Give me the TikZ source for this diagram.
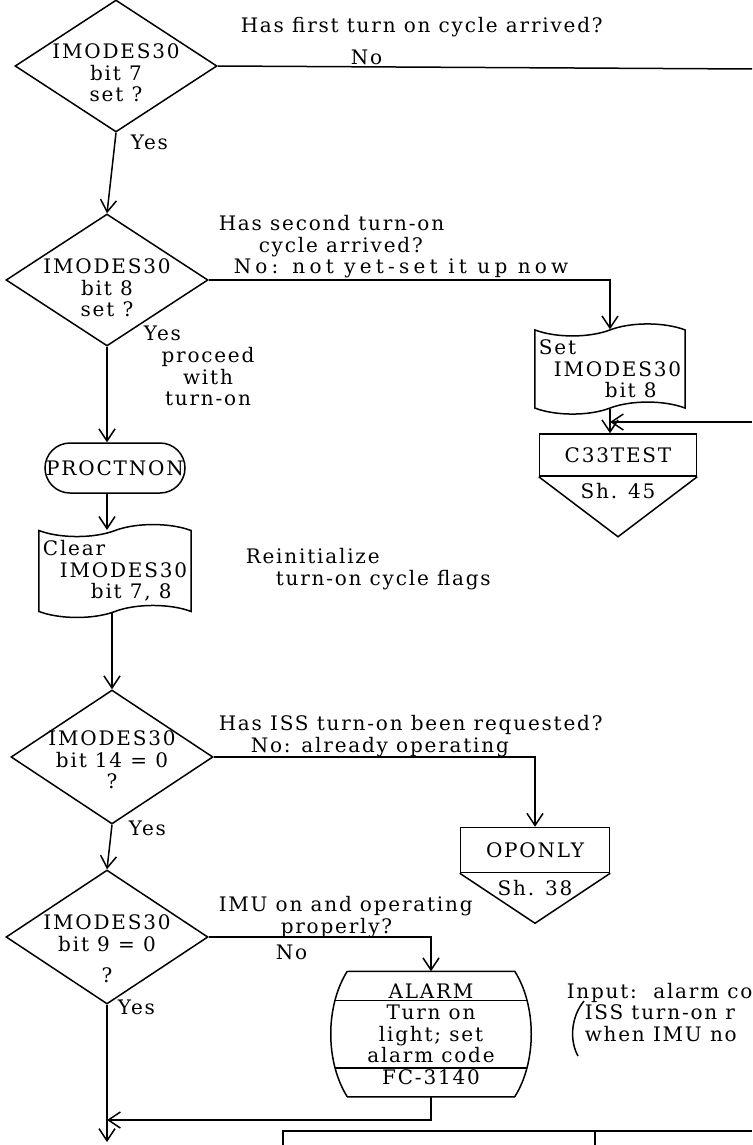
\documentclass[tikz,border=0pt]{standalone}
\usepackage{fontspec}
\setmainfont{DejaVu Serif}[LetterSpace=9]
\usetikzlibrary{shapes.geometric,shapes.misc,shapes.symbols,arrows.meta}

\begin{document}
\begin{tikzpicture}[x=1pt, y=-1pt, line width=1.5pt,
      every node/.style = {font=\fontsize{20}{21.5}\selectfont, inner sep=0pt},
      every label/.style = {align=center},
      cond/.style = {diamond, draw, minimum width=202pt, minimum height=132pt},
      flag/.style = {tape, draw, align=left, inner sep=4pt,
        tape bend top=in and out, tape bend bottom=in and out, tape bend height=12pt},
      sub/.style = {rounded rectangle, draw, minimum width=140pt, minimum height=50pt},
      sheet/.style = {rectangle, draw, minimum height=42pt},
      alarmbox/.style = {rectangle, align=center, minimum width=166pt, minimum height=124pt},
      note/.style = {anchor=west, align=left},
      arr/.style = {-{Straight Barb[length=12pt,width=16pt]}}]
  \useasboundingbox (0,0) rectangle (752,1145);

  % main column
  \node[cond, label={[yshift=-7pt]center:{IMODES30\\bit 7\\set ?}}] (d1) at (116,66) {};
  \node[cond, label={[yshift=-8pt]center:{IMODES30\\bit 8\\set ?}}] (d2) at (107,280) {};
  \node[sub] (proc) at (115,468) {PROCTNON};
  \node[flag, minimum width=150pt, minimum height=72pt] (clear) at (115,571)
    {Clear\\\hspace*{17pt}IMODES30\\\hspace*{48pt}bit 7, 8};
  \node[cond, minimum height=134pt, label={[yshift=-3pt]center:{IMODES30\\bit 14 = 0\\?}}] (d3) at (112,757) {};
  \node[cond, minimum height=134pt, label={[yshift=-12pt]center:{IMODES30\\bit 9 = 0\\[10pt]?}}] (d4) at (107,937) {};

  % side branches
  \node[flag, minimum width=144pt, minimum height=80pt] (set) at (610,369)
    {Set\\\hspace*{15pt}IMODES30\\\hspace*{66pt}bit 8};
  \node[sheet, minimum width=157pt] (c33) at (618,455) {C33TEST};
  \draw (c33.south west) -- ([yshift=-60pt]c33.south) -- (c33.south east);
  \node (c33sh) at ([yshift=-14pt]c33.south) {Sh. 45};

  \node[sheet, minimum width=149pt, minimum height=45pt] (oponly) at (535,850) {OPONLY};
  \draw (oponly.south west) -- ([yshift=-50pt]oponly.south) -- (oponly.south east);
  \node (oponlysh) at ([yshift=-15pt]oponly.south) {Sh. 38};

  \node[alarmbox] (alarm) at (431,1034) {ALARM\\Turn on\\light; set\\alarm code\\FC-3140};
  \draw[line join=round] (alarm.north west) -- (alarm.north east)
    .. controls +(22,35) and +(22,-35) .. (alarm.south east)
    -- (alarm.south west)
    .. controls +(-22,-35) and +(-22,35) .. (alarm.north west);
  \draw ([shift={(-12,29)}]alarm.north west) -- ([shift={(12,29)}]alarm.north east);
  \draw ([shift={(-12,-29)}]alarm.south west) -- ([shift={(12,-29)}]alarm.south east);

  \coordinate (offright) at (752,69);
  \coordinate (fromright) at (752,422);
  \coordinate (merge) at (107,1120);
  \coordinate (exit) at (107,1142);

  % connectors
  \draw[arr] (d1.south) -- (d2.north);
  \draw (d1.east) -- (offright);
  \draw[arr] (d2.east) -| (set.north);
  \draw[arr] (set.south) -- (set.south |- c33.north);
  \draw[arr] (fromright) -- (set.south |- fromright);
  \draw[arr] (d2.south) -- (d2.south |- proc.north);
  \draw[arr] (d2.south |- proc.south) -- (d2.south |- clear.north);
  \draw[arr] (d3.north |- clear.south) -- (d3.north);
  \draw[arr] (d3.east) -| (oponly.north);
  \draw[arr] (d3.south) -- (d4.north);
  \draw[arr] (d4.east) -| (alarm.north);
  \draw[arr] (alarm.south) |- (merge);
  \draw[arr] (d4.south) -- (exit);

  % remarks beside the flow
  \node[note] (q1) at (240,27) {Has first turn on cycle arrived?};
  \node[note] (no1) at (350,57) {No};
  \node[note] (yes1) at (130,142) {Yes};
  \node[note] (q2) at (218,247)
    {Has second turn-on\\\hspace*{40pt}cycle arrived?\\\hspace*{15pt}{\addfontfeature{LetterSpace=21}No: not yet-set it up now}};
  \node[note] (yes2) at (143,333) {Yes};
  \node[align=center] (go2) at (208,377) {proceed\\with\\turn-on};
  \node[note] (reinit) at (245,569) {Reinitialize\\\hspace*{30pt}turn-on cycle flags};
  \node[note] (q3) at (218,736) {Has ISS turn-on been requested?\\\hspace*{32pt}No: already operating};
  \node[note] (yes3) at (128,828) {Yes};
  \node[note] (q4) at (218,917) {IMU on and operating\\\hspace*{62pt}properly?};
  \node[note] (no4) at (275,952) {No};
  \node[note] (yes4) at (117,1007) {Yes};
  \node[note] (input) at (566,993) {Input:\ \ alarm co};
  \node[note] (inputwhy) at (584,1023) {ISS turn-on r\\when IMU no};
  \draw (584,1001) .. controls (570,1018) and (570,1042) .. (578,1056);

  % next block, below
  \draw (283,1145) |- (752,1131);
  \draw (595,1131) -- (595,1145);
\end{tikzpicture}
\end{document}
